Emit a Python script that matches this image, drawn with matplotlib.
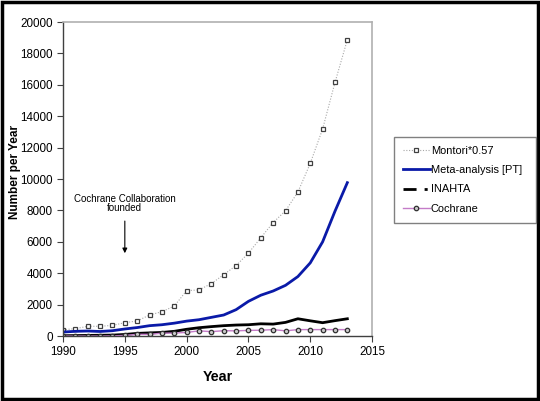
import numpy                            as np
from matplotlib import pyplot           as plt
from matplotlib.lines import Line2D
from matplotlib.patches import Rectangle

plt.rcParams['font.family'] = ['Liberation Sans', 'DejaVu Sans']

# data
YEARS       = list(range(1990, 2014))
MONTORI     = [400, 470, 620, 620, 680, 850, 960, 1340, 1550, 1910, 2890, 2940,
               3340, 3910, 4490, 5280, 6260, 7230, 7980, 9170, 11000, 13190, 16150, 18870]
META        = [255, 300, 320, 290, 340, 450, 540, 660, 720, 820, 950, 1040,
               1190, 1340, 1680, 2210, 2600, 2870, 3230, 3790, 4660, 6000, 7950, 9770]
INAHTA      = [20, 30, 40, 50, 60, 100, 170, 200, 230, 300, 430, 530,
               600, 660, 700, 720, 780, 760, 870, 1100, 970, 850, 980, 1100]
COCHRANE    = [0, 0, 0, 0, 10, 40, 110, 110, 180, 190, 230, 330,
               280, 340, 330, 360, 370, 410, 330, 410, 410, 410, 410, 410]
LABELS      = ('Montori*0.57', 'Meta-analysis [PT]', 'INAHTA', 'Cochrane')

fig = plt.figure(figsize=(5.4, 4.01), dpi=100)
ax  = fig.add_axes([0.1167, 0.162, 0.5723, 0.783])

x = np.array(YEARS)
ax.plot(x, MONTORI, color='#a8a8a8', lw=0.8, ls=(0, (1, 1.5)), marker='s', ms=3.4,
        mfc='white', mec='#404040', mew=0.9, label=LABELS[0])
ax.plot(x, META, color='#0a1aa8', lw=2, label=LABELS[1])
ax.plot(x, INAHTA, color='black', lw=2, label=LABELS[2])
ax.plot(x, COCHRANE, color='#c47cc8', lw=1, marker='o', ms=3.2,
        mfc='#c8c8c8', mec='#303030', mew=0.9, label=LABELS[3])

ax.set_xlim(1990, 2015)
ax.set_ylim(0, 20000)
ax.set_xticks(range(1990, 2016, 5))
ax.set_yticks(range(0, 20001, 2000))
ax.tick_params(labelsize=8.4, direction='out', length=4, width=0.8, color='#404040')

for side in ('top', 'right'):
    ax.spines[side].set_color('#b0b0b0')
    ax.spines[side].set_linewidth(1.2)
for side in ('left', 'bottom'):
    ax.spines[side].set_color('#404040')
    ax.spines[side].set_linewidth(1)

ax.set_xlabel('Year', fontsize=10.3, fontweight='bold')
ax.set_ylabel('Number per Year', fontsize=8.5, fontweight='bold')
ax.xaxis.set_label_coords(0.5, -0.107)
ax.yaxis.set_label_coords(-0.137, 0.522)

# annotation
ax.text(1995, 8450, 'Cochrane Collaboration\nfounded', ha='center', va='center',
        fontsize=7, linespacing=0.95)
ax.annotate('', xy=(1995, 5100), xytext=(1995, 7500),
            arrowprops=dict(arrowstyle='-|>', color='black', lw=0.8, mutation_scale=7))

# legend (INAHTA handle shown broken like in the original)
handles = [Line2D([], [], color='#a8a8a8', lw=0.8, ls=(0, (1, 1.5)), marker='s', ms=3.4,
                  mfc='white', mec='#404040', mew=0.9),
           Line2D([], [], color='#0a1aa8', lw=2),
           Line2D([], [], color='black', lw=2, ls=(0, (4.7, 2.9, 1.1, 10))),
           Line2D([], [], color='#c47cc8', lw=1, marker='o', ms=3.2,
                  mfc='#c8c8c8', mec='#303030', mew=0.9)]
leg = fig.legend(handles, LABELS, loc='upper left', mode='expand',
                 bbox_to_anchor=(0.7296, 0.5, 0.263, 0.1584),
                 fontsize=7.9, frameon=True, fancybox=False, handlelength=2.45,
                 handletextpad=0.1, labelspacing=0.85, borderpad=0.8, borderaxespad=0)
leg.get_frame().set_edgecolor('#606060')
leg.get_frame().set_linewidth(1)

# black border around the whole picture
fig.patches.append(Rectangle((0.003, 0.004), 0.994, 0.992, transform=fig.transFigure,
                             fill=False, edgecolor='black', lw=2.5))

plt.savefig('out.png', dpi=100)
